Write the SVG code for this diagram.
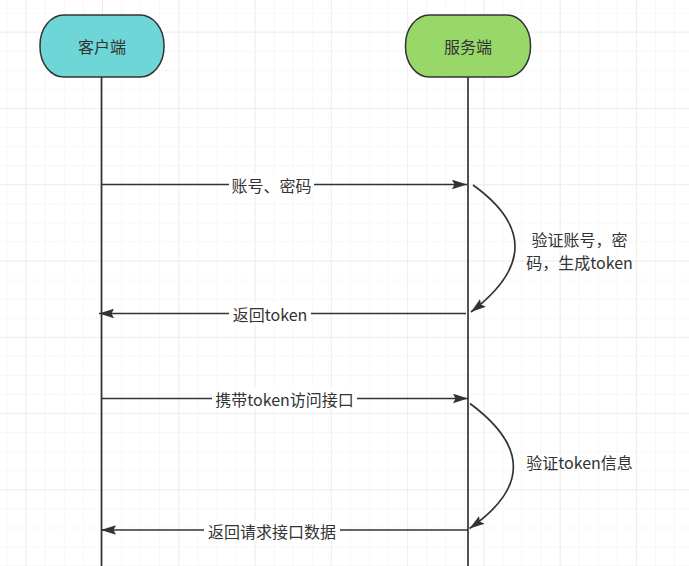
<svg xmlns="http://www.w3.org/2000/svg" width="689" height="566" viewBox="0 0 689 566">
  <defs>
    <pattern id="minor" x="6.63" y="12.6" width="19.07" height="19.07" patternUnits="userSpaceOnUse">
      <path d="M0 0 V19.07 M0 0 H19.07" fill="none" stroke="#f0f0f0" stroke-width="1"/>
    </pattern>
    <pattern id="major" x="25.7" y="31.7" width="76.28" height="76.28" patternUnits="userSpaceOnUse">
      <path d="M0 0 V76.28 M0 0 H76.28" fill="none" stroke="#e3e3e3" stroke-width="1"/>
    </pattern>
    <marker id="arrow" markerUnits="userSpaceOnUse" markerWidth="16" markerHeight="10" viewBox="-15 -5 16 10" refX="0" refY="0" orient="auto">
      <path d="M0 0 L-15 -4.8 L-12.5 0 L-15 4.8 Z" fill="#333333"/>
    </marker>
    <style>
      .lbl { font-family: "Noto Sans CJK SC", "Liberation Sans", sans-serif; font-size: 16px; fill: #333333; text-anchor: middle; dominant-baseline: central; }
      .node { stroke: #333333; stroke-width: 1.5; }
      .life { stroke: #333333; stroke-width: 1.7; fill: none; }
      .msg { stroke: #333333; stroke-width: 1.7; fill: none; marker-end: url(#arrow); }
      .bg { fill: #ffffff; }
    </style>
  </defs>

  <rect width="689" height="566" fill="#ffffff"/>
  <rect width="689" height="566" fill="url(#minor)"/>
  <rect width="689" height="566" fill="url(#major)"/>

  <g id="lifelines">
    <path class="life" d="M101.5 77 V566"/>
    <path class="life" d="M468 77 V566"/>
  </g>

  <g id="client">
    <rect class="node" x="40" y="15" width="124" height="62" rx="24" ry="30" fill="#6fd6d7"/>
    <text class="lbl" x="102" y="46">客户端</text>
  </g>

  <g id="server">
    <rect class="node" x="405.5" y="15" width="125" height="62" rx="24" ry="30" fill="#97d869"/>
    <text class="lbl" x="468" y="46">服务端</text>
  </g>

  <g id="connectors">
    <path class="msg" d="M101.5 184.5 H467"/>
    <path class="msg" d="M473 185 Q558 246 471 312"/>
    <path class="msg" d="M466 313.5 H99"/>
    <path class="msg" d="M101.5 398.5 H468"/>
    <path class="msg" d="M470 403.5 Q557 468 469.5 528.5"/>
    <path class="msg" d="M468 530 H101"/>
  </g>

  <g id="labels">
    <rect class="bg" x="229" y="174" width="85" height="21"/>
    <text class="lbl" x="271.5" y="184.5">账号、密码</text>

    <text class="lbl" x="579.5" y="238.5">验证账号，密</text>
    <text class="lbl" x="579.5" y="261.5">码，生成token</text>

    <rect class="bg" x="229" y="303" width="82" height="21"/>
    <text class="lbl" x="270" y="313.5">返回token</text>

    <rect class="bg" x="212" y="388" width="145" height="21"/>
    <text class="lbl" x="284.5" y="398.5">携带token访问接口</text>

    <text class="lbl" x="579.5" y="461.5">验证token信息</text>

    <rect class="bg" x="204" y="520" width="136" height="21"/>
    <text class="lbl" x="272" y="531">返回请求接口数据</text>
  </g>
</svg>
